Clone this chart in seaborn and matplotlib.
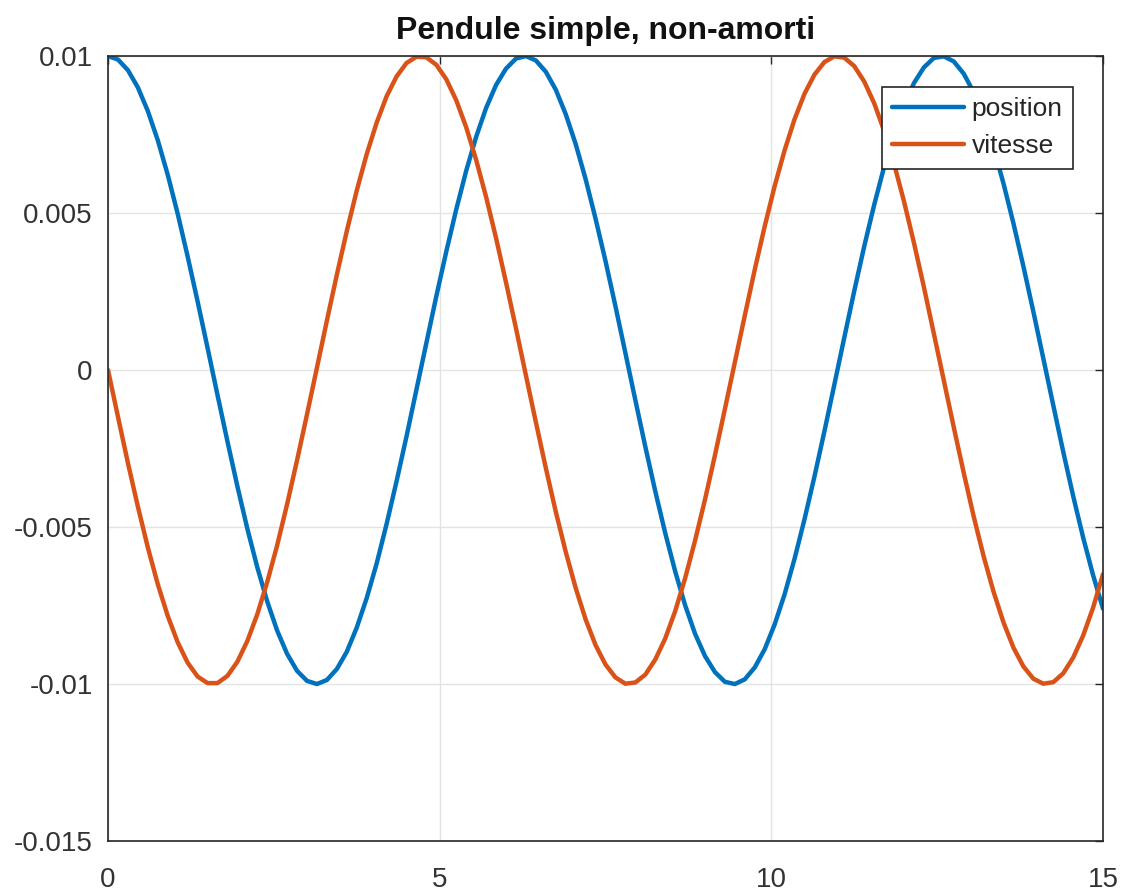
"""
Pendule simple, non-amorti : position et vitesse
"""
import numpy as np
import pandas as pd
import matplotlib
matplotlib.use("Agg")
import matplotlib.pyplot as plt
import seaborn as sns

# temps (pas de 0.15 s)
temps = [round(0.15 * k, 2) for k in range(101)]

position = [
    0.01000, 0.00989, 0.00955, 0.00900, 0.00825, 0.00732, 0.00622, 0.00498, 0.00362, 0.00219,
    0.00071, -0.00079, -0.00227, -0.00370, -0.00505, -0.00628, -0.00737, -0.00830, -0.00904, -0.00958,
    -0.00990, -0.01000, -0.00987, -0.00952, -0.00897, -0.00820, -0.00726, -0.00616, -0.00490, -0.00354,
    -0.00211, -0.00062, 0.00087, 0.00236, 0.00378, 0.00512, 0.00635, 0.00743, 0.00835, 0.00908,
    0.00960, 0.00992, 0.01000, 0.00986, 0.00950, 0.00893, 0.00815, 0.00720, 0.00608, 0.00482,
    0.00347, 0.00203, 0.00054, -0.00096, -0.00244, -0.00386, -0.00519, -0.00641, -0.00749, -0.00840,
    -0.00911, -0.00962, -0.00993, -0.01000, -0.00985, -0.00947, -0.00889, -0.00810, -0.00714, -0.00601,
    -0.00475, -0.00339, -0.00195, -0.00046, 0.00104, 0.00252, 0.00394, 0.00526, 0.00647, 0.00754,
    0.00844, 0.00914, 0.00964, 0.00994, 0.00999, 0.00983, 0.00944, 0.00885, 0.00805, 0.00708,
    0.00594, 0.00467, 0.00330, 0.00186, 0.00037, -0.00112, -0.00260, -0.00401, -0.00533, -0.00653,
    -0.00760,
]

vitesse = [
    0.00000, -0.00149, -0.00296, -0.00435, -0.00565, -0.00682, -0.00783, -0.00867, -0.00932, -0.00976,
    -0.00997, -0.00997, -0.00974, -0.00929, -0.00863, -0.00778, -0.00675, -0.00558, -0.00427, -0.00287,
    -0.00141, 0.00008, 0.00158, 0.00304, 0.00443, 0.00572, 0.00688, 0.00788, 0.00872, 0.00935,
    0.00978, 0.00998, 0.00996, 0.00972, 0.00926, 0.00859, 0.00773, 0.00669, 0.00551, 0.00420,
    0.00279, 0.00133, -0.00017, -0.00166, -0.00312, -0.00451, -0.00579, -0.00694, -0.00794, -0.00876,
    -0.00938, -0.00979, -0.00999, -0.00995, -0.00970, -0.00922, -0.00855, -0.00768, -0.00663, -0.00543,
    -0.00412, -0.00271, -0.00124, 0.00025, 0.00174, 0.00320, 0.00458, 0.00586, 0.00700, 0.00799,
    0.00880, 0.00941, 0.00981, 0.00999, 0.00995, 0.00968, 0.00919, 0.00850, 0.00762, 0.00657,
    0.00537, 0.00405, 0.00264, 0.00116, -0.00033, -0.00182, -0.00327, -0.00466, -0.00593, -0.00706,
    -0.00804, -0.00884, -0.00944, -0.00983, -0.00999, -0.00994, -0.00966, -0.00916, -0.00846, -0.00757,
    -0.00650,
]

x_ticks = [0, 5, 10, 15]
y_ticks = [-0.015, -0.01, -0.005, 0, 0.005, 0.01]
y_labels = ["-0.015", "-0.01", "-0.005", "0", "0.005", "0.01"]

couleurs = {"position": "#0072BD", "vitesse": "#D95319"}

df = pd.DataFrame({"temps": temps, "position": position, "vitesse": vitesse})
df_long = df.melt(id_vars="temps", var_name="serie", value_name="valeur")

sns.set_style("white")
plt.rcParams["font.family"] = ["Liberation Sans", "DejaVu Sans"]

fig = plt.figure(figsize=(11.23, 8.93), dpi=100)
ax = fig.add_axes([0.0962, 0.0582, 0.886, 0.879])

sns.lineplot(data=df_long, x="temps", y="valeur", hue="serie",
             palette=couleurs, linewidth=3.2, ax=ax, sort=False)

ax.set_xlim(0, 15)
ax.set_ylim(-0.015, 0.01)
ax.set_xticks(x_ticks)
ax.set_xticklabels([str(t) for t in x_ticks])
ax.set_yticks(y_ticks)
ax.set_yticklabels(y_labels)
ax.set_xlabel("")
ax.set_ylabel("")

ax.grid(True, color="#e3e3e3", linewidth=1)
ax.set_axisbelow(True)
for spine in ax.spines.values():
    spine.set_visible(True)
    spine.set_color("#262626")
    spine.set_linewidth(1.2)
ax.tick_params(direction="in", length=6, width=1, colors="#262626",
               labelcolor="#333333", top=True, right=True, labelsize=20)
ax.tick_params(axis="x", pad=19)
ax.tick_params(axis="y", pad=11)

ax.set_title("Pendule simple, non-amorti", fontsize=23, fontweight="bold",
             pad=12, color="#111111")

leg = ax.legend(loc="upper right", bbox_to_anchor=(0.970, 0.961), borderaxespad=0,
                fontsize=19, frameon=True, fancybox=False, framealpha=1,
                edgecolor="#262626", handlelength=2.7, handletextpad=0.3,
                borderpad=0.4, labelspacing=0.5)
leg.get_frame().set_linewidth(1.2)
for line in leg.get_lines():
    line.set_linewidth(3.2)

fig.savefig("out.png", dpi=100)
